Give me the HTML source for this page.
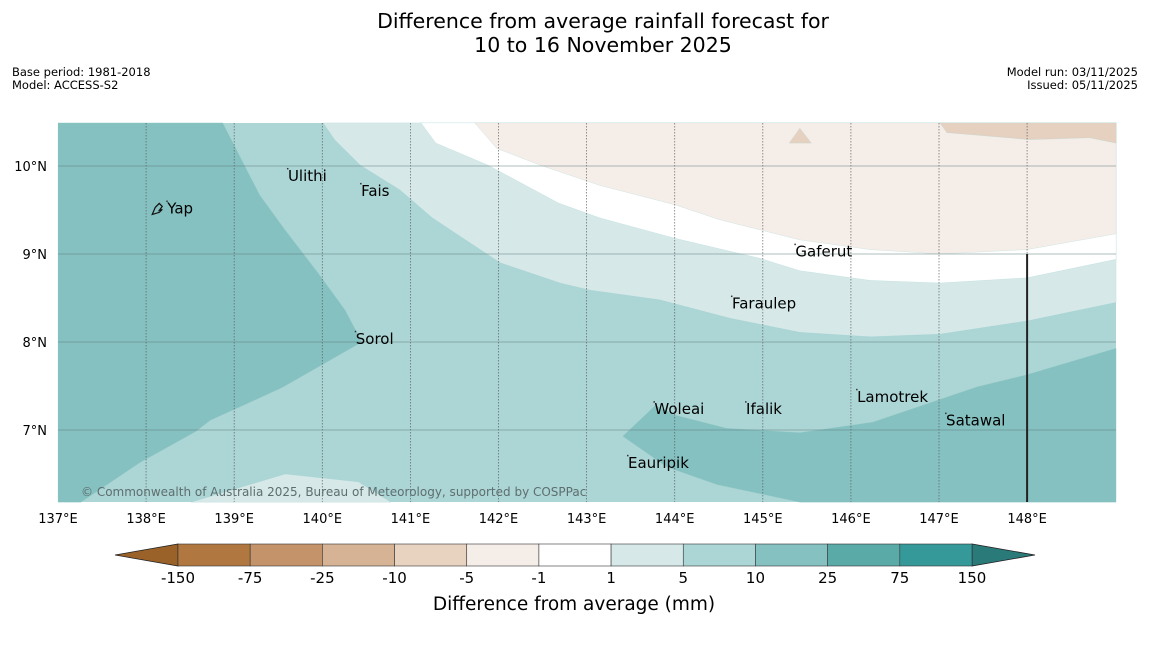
<!DOCTYPE html>
<html><head><meta charset="utf-8"><style>
body{margin:0;background:#fff;width:1150px;height:644px;overflow:hidden;font-family:"DejaVu Sans","Liberation Sans",sans-serif}
svg text{font-family:"DejaVu Sans","Liberation Sans",sans-serif}
</style></head><body>
<svg id="c" width="1150" height="644">
<text x="603" y="28" font-size="20.5" text-anchor="middle">Difference from average rainfall forecast for</text>
<text x="603" y="52" font-size="20.5" text-anchor="middle">10 to 16 November 2025</text>
<text x="12" y="76" font-size="11.5">Base period: 1981-2018</text>
<text x="12" y="89" font-size="11.5">Model: ACCESS-S2</text>
<text x="1138" y="76" font-size="11.5" text-anchor="end">Model run: 03/11/2025</text>
<text x="1138" y="89" font-size="11.5" text-anchor="end">Issued: 05/11/2025</text>
<g id="map"></g>
<g id="cbar"></g>
</svg>
<script>
const lonTicks=[137,138,139,140,141,142,143,144,145,146,147,148];
const latTicks=[10,9,8,7];
const darkLeft=[[137,10.49],[138.87,10.49],[139.29,9.67],[139.58,9.27],[139.97,8.76],[140.26,8.36],[140.45,8.0],[139.54,7.48],[138.73,7.11],[138.56,6.98],[137.93,6.63],[137.26,6.18],[137,6.18]];
const lightUpper=[[140.01,10.49],[140.14,10.3],[140.43,10.01],[140.88,9.73],[141.25,9.41],[142.02,8.9],[142.7,8.67],[143.04,8.59],[143.83,8.48],[144.63,8.27],[145.42,8.11],[146.22,8.06],[147.01,8.09],[148,8.24],[149.01,8.45],[149.01,10.49]];
const whiteBand=[[141.12,10.49],[141.29,10.26],[141.88,10.01],[142.68,9.58],[143.15,9.41],[144,9.18],[144.97,8.95],[145.42,8.81],[146.22,8.7],[147.01,8.67],[148,8.73],[149.01,8.94],[149.01,10.49]];
const beigeBand=[[141.73,10.49],[141.98,10.2],[142.47,10.01],[143.15,9.78],[144,9.56],[144.51,9.39],[145.42,9.16],[146.22,9.05],[147.01,9.0],[148,9.05],[149.01,9.23],[149.01,10.49]];
const darkBeige=[[147.01,10.49],[147.09,10.38],[148.03,10.3],[148.71,10.32],[149.01,10.26],[149.01,10.49]];
const darkBeigeIsle=[[145.3,10.26],[145.55,10.26],[145.42,10.43]];
const lightBottom=[[138.51,6.18],[139.58,6.5],[140.41,6.41],[140.78,6.18]];
const darkRight=[[143.41,6.93],[143.78,7.28],[144,7.17],[144.59,7.02],[145.42,6.97],[146.25,7.09],[147.43,7.49],[148,7.63],[149.01,7.93],[149.01,6.18],[145.42,6.18],[144.48,6.38],[143.91,6.58]];
const placeNames=["Yap","Ulithi","Fais","Sorol","Gaferut","Faraulep","Woleai","Ifalik","Lamotrek","Satawal","Eauripik"];
const placeLon=[138.24,139.61,140.44,140.38,145.37,144.65,143.77,144.81,146.07,147.08,143.47];
const placeLat=[9.46,9.83,9.66,7.98,8.97,8.38,7.18,7.18,7.32,7.05,6.57];
const cbLabels=["-150","-75","-25","-10","-5","-1","1","5","10","25","75","150"];
const cbColors=["#b07840","#c4936a","#d6b394","#e8d3c0","#f5ede8","#ffffff","#d6e9e8","#acd5d5","#85c1c0","#5aaaa8","#35999a"];

const X0=58,X1=1116,Y0=123,Y1=502;
const xs=lon=>58+(lon-137)*88.1;
const ys=lat=>166+(10-lat)*88;
const NS="http://www.w3.org/2000/svg";
const map=document.getElementById('map');
function mk(tag,attrs,parent){const e=document.createElementNS(NS,tag);for(const k in attrs)e.setAttribute(k,attrs[k]);parent.appendChild(e);return e;}
function pts(a){return a.map(p=>xs(p[0]).toFixed(1)+','+ys(p[1]).toFixed(1)).join(' ');}
let bg=mk('rect',{x:X0,y:Y0,width:X1-X0,height:Y1-Y0,fill:'#acd5d5'},map);


const layers=[[darkLeft,'#85c1c0','contour-10-25-west'],[lightBottom,'#d6e9e8','contour-1-5-south'],[lightUpper,'#d6e9e8','contour-1-5-north'],[whiteBand,'#ffffff','contour-neutral'],[beigeBand,'#f5ede8','contour-minus5-minus1'],[darkBeige,'#e6d1c0','contour-minus10-minus5'],[darkBeigeIsle,'#e6d1c0','contour-minus10-patch'],[darkRight,'#85c1c0','contour-10-25-east']];
layers.forEach(l=>{const p=mk('polygon',{points:pts(l[0]),fill:l[1],stroke:'#9cc',"stroke-width":0.4,"stroke-opacity":0.5},map);

});
lonTicks.forEach(lo=>{const x=xs(lo);
if(lo>137){const g=mk('line',{x1:x,x2:x,y1:Y0,y2:Y1,stroke:'#555',"stroke-width":0.8,"stroke-dasharray":"1.5,1.5","stroke-opacity":0.8},map);

}
const t=mk('text',{x:x,y:523,"font-size":13,"text-anchor":"middle"},map);t.textContent=lo+'°E';

});
latTicks.forEach(la=>{const y=ys(la);
const g=mk('line',{x1:X0,x2:X1,y1:y,y2:y,stroke:'#607d7d',"stroke-width":1,"stroke-opacity":0.5},map);


const t=mk('text',{x:47,y:y+5,"font-size":13,"text-anchor":"end"},map);t.textContent=la+'°N';

});
const bl=mk('line',{x1:xs(148),x2:xs(148),y1:ys(9),y2:Y1,stroke:'#222',"stroke-width":2},map);


placeNames.forEach((n,i)=>{const x=xs(placeLon[i]),y=ys(placeLat[i]);
const d=mk('rect',{x:x-1,y:y-13,width:1.5,height:1.5,fill:'#333'},map);


const t=mk('text',{x:x,y:y,"font-size":15},map);t.textContent=n;

});
const yi=mk('path',{d:`M${xs(138.07)} ${ys(9.45)} l3 -7 l4 -4 l3 3 l-3 4 l3 -1 l-3 3 z`,fill:'none',stroke:'#111',"stroke-width":1.2},map);


const cp=mk('text',{x:81,y:496,"font-size":12,fill:'#5e6e6e'},map);cp.textContent='© Commonwealth of Australia 2025, Bureau of Meteorology, supported by COSPPac';



const cb=document.getElementById('cbar');
const L=178,R=972,T=544,B=566,w=(R-L)/cbColors.length;
const lt=mk('polygon',{points:`115,555 ${L},${T} ${L},${B}`,fill:'#9a6128',stroke:'#222',"stroke-width":0.8},cb);


const rt=mk('polygon',{points:`1035,555 ${R},${T} ${R},${B}`,fill:'#2b7a7a',stroke:'#222',"stroke-width":0.8},cb);


cbColors.forEach((c,i)=>{const r=mk('rect',{x:L+i*w,y:T,width:w,height:B-T,fill:c,stroke:'#333',"stroke-width":0.6},cb);

});
cbLabels.forEach((s,i)=>{const t=mk('text',{x:L+i*w,y:583,"font-size":15,"text-anchor":"middle"},cb);t.textContent=s;

});
const ct=mk('text',{x:574,y:610,"font-size":18.5,"text-anchor":"middle"},cb);ct.textContent='Difference from average (mm)';


</script>
</body></html>
